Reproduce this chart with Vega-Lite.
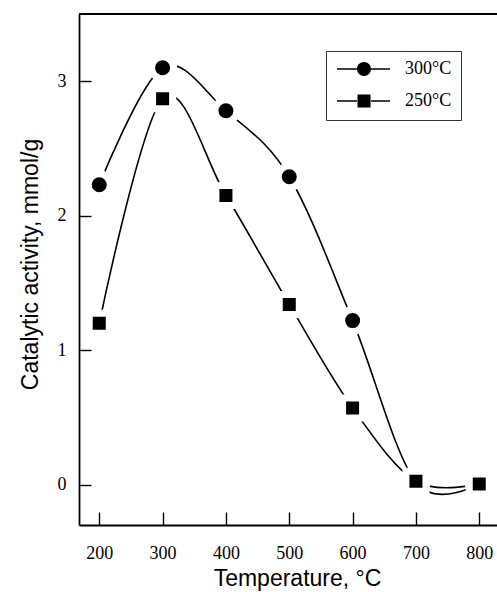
{
  "$schema": "https://vega.github.io/schema/vega-lite/v6.json",
  "autosize": {"type": "none"},
  "width": 418,
  "height": 511,
  "padding": {"left": 79, "top": 14, "right": 0, "bottom": 67},
  "background": "white",
  "config": {
    "view": {"stroke": null},
    "axis": {
      "grid": false,
      "domainColor": "black",
      "domainWidth": 1.8,
      "tickColor": "black",
      "tickWidth": 1.4,
      "labelColor": "black",
      "labelFont": "Liberation Serif",
      "labelFontSize": 18,
      "titleFont": "Liberation Sans",
      "titleFontSize": 23,
      "titleFontWeight": "normal",
      "titleColor": "black"
    }
  },
  "data": {
    "values": [
      {"t": 200, "a": 2.23, "series": "300°C"},
      {"t": 300, "a": 3.10, "series": "300°C"},
      {"t": 400, "a": 2.78, "series": "300°C"},
      {"t": 500, "a": 2.29, "series": "300°C"},
      {"t": 600, "a": 1.22, "series": "300°C"},
      {"t": 700, "a": 0.02, "series": "300°C"},
      {"t": 800, "a": 0.01, "series": "300°C"},
      {"t": 200, "a": 1.20, "series": "250°C"},
      {"t": 300, "a": 2.87, "series": "250°C"},
      {"t": 400, "a": 2.15, "series": "250°C"},
      {"t": 500, "a": 1.34, "series": "250°C"},
      {"t": 600, "a": 0.57, "series": "250°C"},
      {"t": 700, "a": 0.025, "series": "250°C"},
      {"t": 800, "a": 0.005, "series": "250°C"}
    ]
  },
  "resolve": {"axis": {"x": "independent", "y": "independent"}, "scale": {"shape": "independent"}},
  "layer": [
    {
      "mark": {"type": "rule", "color": "black", "strokeWidth": 1.8},
      "encoding": {"y": {"datum": 3.5, "type": "quantitative", "axis": null}}
    },
    {
      "mark": {"type": "line", "interpolate": "cardinal", "color": "black", "strokeWidth": 1.6},
      "encoding": {
        "x": {"field": "t", "type": "quantitative", "scale": {"domain": [168, 828], "nice": false, "zero": false},
          "axis": {"orient": "bottom", "values": [200, 300, 400, 500, 600, 700, 800], "offset": -13, "domain": false, "labels": false, "ticks": true, "tickSize": 13, "title": null}},
        "y": {"field": "a", "type": "quantitative", "scale": {"domain": [-0.3, 3.5], "nice": false, "zero": false},
          "axis": {"orient": "left", "values": [0, 1, 2, 3], "offset": -12, "domain": false, "labels": false, "ticks": true, "tickSize": 12, "title": null}},
        "detail": {"field": "series"}
      }
    },
    {
      "mark": {"type": "point", "filled": true, "fill": "black", "stroke": "white", "strokeWidth": 7, "opacity": 1, "strokeOpacity": 1, "size": 484},
      "encoding": {
        "x": {"field": "t", "type": "quantitative",
          "axis": {"orient": "bottom", "values": [200, 300, 400, 500, 600, 700, 800], "ticks": false, "tickSize": 0, "labelPadding": 19, "labelFlush": false, "labelOverlap": false, "format": "d",
            "title": "Temperature, °C", "titleX": 218, "titleY": 60, "titleBaseline": "alphabetic", "titleAlign": "center", "titleAnchor": null}},
        "y": {"field": "a", "type": "quantitative",
          "axis": {"orient": "left", "values": [0, 1, 2, 3], "ticks": false, "tickSize": 0, "labelPadding": 13, "labelFlush": false, "labelOverlap": false, "format": "d",
            "title": "Catalytic activity, mmol/g", "titleX": -42, "titleY": 250, "titleAngle": 270, "titleBaseline": "alphabetic", "titleAlign": "center", "titleAnchor": null}},
        "shape": {"field": "series", "type": "nominal",
          "scale": {"domain": ["300°C", "250°C"], "range": ["circle", "M-0.91,-0.91L0.91,-0.91L0.91,0.91L-0.91,0.91Z"]},
          "legend": null}
      }
    },
    {
      "data": {"values": []},
      "mark": {"type": "point", "filled": true, "fill": "black", "strokeWidth": 0, "opacity": 1},
      "encoding": {
        "shape": {"field": "series", "type": "nominal",
          "scale": {"domain": ["300°C", "250°C"], "range": [
            "M-1,-0.11L1.86,-0.11L1.86,0.11L-1,0.11ZM3.857,0A1,1,0,1,1,1.857,0A1,1,0,1,1,3.857,0ZM3.86,-0.11L6.57,-0.11L6.57,0.11L3.86,0.11Z",
            "M-1,-0.11L1.86,-0.11L1.86,0.11L-1,0.11ZM1.93,-0.93L3.79,-0.93L3.79,0.93L1.93,0.93ZM3.86,-0.11L6.57,-0.11L6.57,0.11L3.86,0.11Z"]},
          "legend": {
            "orient": "none", "legendX": 247, "legendY": 37, "title": null,
            "symbolSize": 196, "labelFont": "Liberation Serif", "labelFontSize": 18, "labelColor": "black",
            "symbolFillColor": "black",
            "padding": 9, "strokeColor": "#333", "fillColor": "white", "cornerRadius": 0,
            "rowPadding": 12, "labelOffset": 52
          }}
      }
    }
  ]
}
